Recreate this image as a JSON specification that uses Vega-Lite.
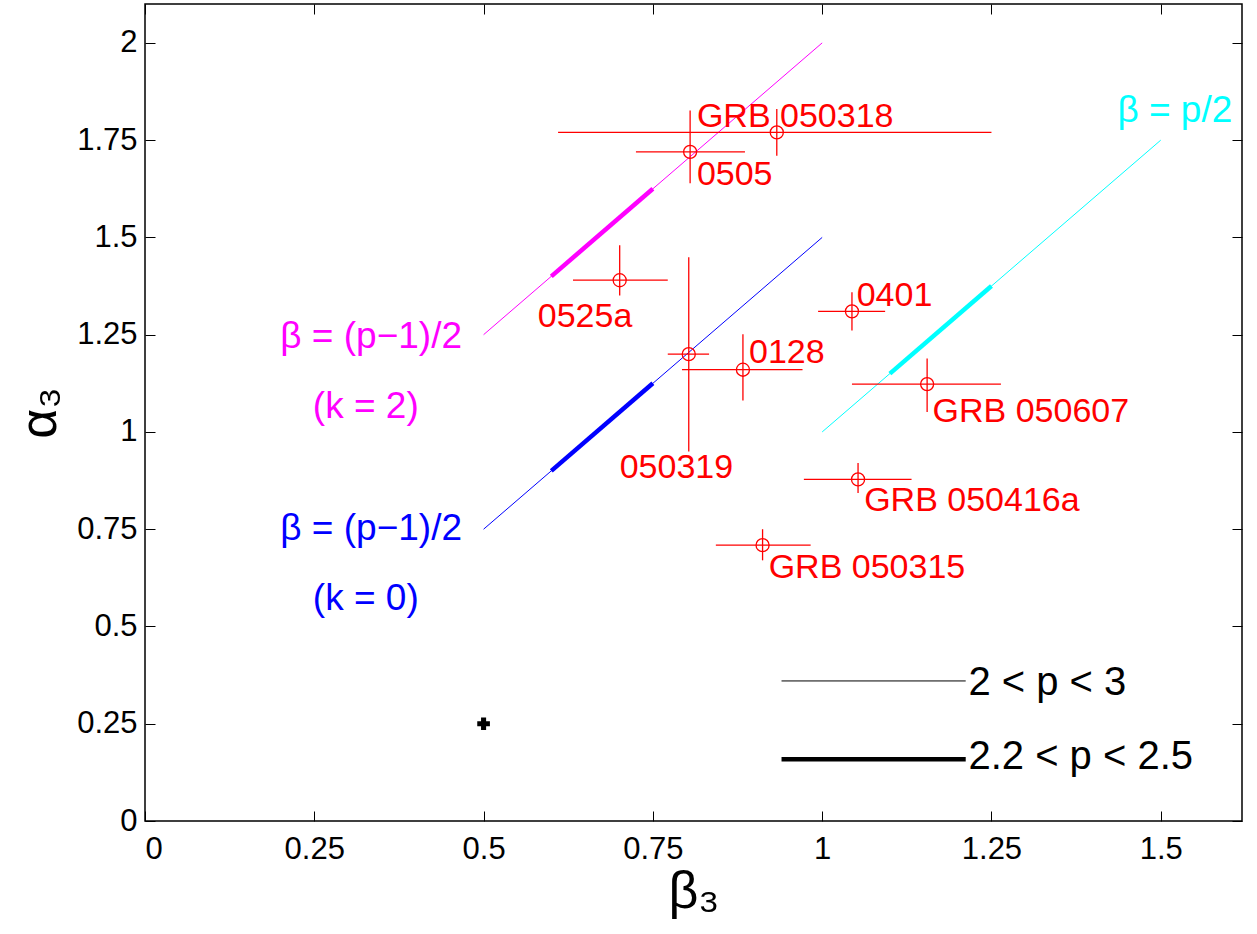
{
  "$schema": "https://vega.github.io/schema/vega-lite/v6.json",
  "width": 1097,
  "height": 817,
  "autosize": {"type": "none"},
  "padding": {"left": 145, "top": 4, "right": 15, "bottom": 113},
  "background": "white",
  "config": {
    "view": {"stroke": "black", "strokeWidth": 1.5},
    "font": "Liberation Sans",
    "axis": {
      "grid": false,
      "domain": false,
      "tickColor": "black",
      "tickSize": -10,
      "tickWidth": 1,
      "labelFont": "Liberation Sans",
      "labelFontSize": 31,
      "labelColor": "black",
      "titleFont": "Liberation Sans",
      "titleColor": "black",
      "titleFontWeight": "normal"
    }
  },
  "datasets": {
    "models": [
      {"x": 0.5, "y": 1.25, "x2": 1.0, "y2": 2.0, "grp": "k2", "prange": "2<p<3"},
      {"x": 0.6, "y": 1.4, "x2": 0.75, "y2": 1.625, "grp": "k2", "prange": "2.2<p<2.5"},
      {"x": 0.5, "y": 0.75, "x2": 1.0, "y2": 1.5, "grp": "k0", "prange": "2<p<3"},
      {"x": 0.6, "y": 0.9, "x2": 0.75, "y2": 1.125, "grp": "k0", "prange": "2.2<p<2.5"},
      {"x": 1.0, "y": 1.0, "x2": 1.5, "y2": 1.75, "grp": "pHalf", "prange": "2<p<3"},
      {"x": 1.1, "y": 1.15, "x2": 1.25, "y2": 1.375, "grp": "pHalf", "prange": "2.2<p<2.5"}
    ],
    "grbs": [
      {"name": "GRB 050318", "beta": 0.933, "alpha": 1.77, "blo": 0.61, "bhi": 1.25, "alo": 1.71, "ahi": 1.83, "lx": 0.815, "ly": 1.785},
      {"name": "0505", "beta": 0.805, "alpha": 1.72, "blo": 0.725, "bhi": 0.886, "alo": 1.639, "ahi": 1.826, "lx": 0.815, "ly": 1.634},
      {"name": "0525a", "beta": 0.701, "alpha": 1.39, "blo": 0.632, "bhi": 0.772, "alo": 1.351, "ahi": 1.48, "lx": 0.58, "ly": 1.269},
      {"name": "050319", "beta": 0.803, "alpha": 1.2, "blo": 0.772, "bhi": 0.833, "alo": 0.95, "ahi": 1.449, "lx": 0.701, "ly": 0.881},
      {"name": "0128", "beta": 0.883, "alpha": 1.16, "blo": 0.793, "bhi": 0.971, "alo": 1.081, "ahi": 1.251, "lx": 0.892, "ly": 1.176},
      {"name": "0401", "beta": 1.044, "alpha": 1.31, "blo": 0.994, "bhi": 1.093, "alo": 1.261, "ahi": 1.359, "lx": 1.051, "ly": 1.325},
      {"name": "GRB 050607", "beta": 1.155, "alpha": 1.123, "blo": 1.044, "bhi": 1.264, "alo": 1.051, "ahi": 1.189, "lx": 1.163, "ly": 1.025},
      {"name": "GRB 050416a", "beta": 1.053, "alpha": 0.878, "blo": 0.973, "bhi": 1.132, "alo": 0.843, "ahi": 0.92, "lx": 1.062, "ly": 0.796},
      {"name": "GRB 050315", "beta": 0.912, "alpha": 0.709, "blo": 0.843, "bhi": 0.983, "alo": 0.67, "ahi": 0.75, "lx": 0.921, "ly": 0.624}
    ],
    "eqlabels": [
      {"text": "β = (p−1)/2", "x": 0.334, "y": 1.215, "grp": "k2"},
      {"text": "(k = 2)", "x": 0.326, "y": 1.035, "grp": "k2"},
      {"text": "β = (p−1)/2", "x": 0.334, "y": 0.722, "grp": "k0"},
      {"text": "(k = 0)", "x": 0.326, "y": 0.542, "grp": "k0"}
    ],
    "cyanlabel": [
      {"text": "β = p/2", "x": 1.436, "y": 1.796, "grp": "pHalf"}
    ],
    "marker": [
      {"x": 0.5, "y": 0.25}
    ],
    "legend": [
      {"x": 0.94, "x2": 1.212, "y": 0.36, "prange": "2<p<3", "text": "2 < p < 3", "tx": 1.216, "ty": 0.325},
      {"x": 0.94, "x2": 1.212, "y": 0.159, "prange": "2.2<p<2.5", "text": "2.2 < p < 2.5", "tx": 1.216, "ty": 0.134}
    ]
  },
  "layer": [
    {
      "data": {"name": "models"},
      "mark": {"type": "rule", "strokeCap": "butt"},
      "encoding": {
        "x": {"field": "x", "type": "quantitative",
              "scale": {"domain": [0, 1.62], "nice": false, "zero": false},
              "axis": {"orient": "bottom", "values": [0, 0.25, 0.5, 0.75, 1, 1.25, 1.5], "labelExpr": "'' + datum.value", "labelPadding": 23, "title": "β₃", "titleFontSize": 52, "titlePadding": 2}},
        "y": {"field": "y", "type": "quantitative",
              "scale": {"domain": [0, 2.1], "nice": false, "zero": false},
              "axis": {"orient": "left", "values": [0, 0.25, 0.5, 0.75, 1, 1.25, 1.5, 1.75, 2], "labelExpr": "'' + datum.value", "labelPadding": 18, "title": "α₃", "titleFontSize": 52, "titlePadding": 10}},
        "x2": {"field": "x2"},
        "y2": {"field": "y2"},
        "color": {"field": "grp", "type": "nominal", "legend": null,
                  "scale": {"domain": ["k2", "k0", "pHalf"], "range": ["#ff00ff", "#0000ff", "#00ffff"]}},
        "strokeWidth": {"field": "prange", "type": "nominal", "legend": null,
                        "scale": {"domain": ["2<p<3", "2.2<p<2.5"], "range": [1, 4.5]}}
      }
    },
    {
      "data": {"name": "grbs"},
      "mark": {"type": "rule", "color": "#ff0000", "strokeWidth": 1.3},
      "encoding": {
        "x": {"field": "blo", "type": "quantitative", "axis": null},
        "x2": {"field": "bhi"},
        "y": {"field": "alpha", "type": "quantitative", "axis": null}
      }
    },
    {
      "data": {"name": "grbs"},
      "mark": {"type": "rule", "color": "#ff0000", "strokeWidth": 1.3},
      "encoding": {
        "x": {"field": "beta", "type": "quantitative", "axis": null},
        "y": {"field": "alo", "type": "quantitative", "axis": null},
        "y2": {"field": "ahi"}
      }
    },
    {
      "data": {"name": "grbs"},
      "mark": {"type": "point", "shape": "circle", "filled": false, "color": "#ff0000", "size": 170, "strokeWidth": 1.3, "opacity": 1},
      "encoding": {
        "x": {"field": "beta", "type": "quantitative", "axis": null},
        "y": {"field": "alpha", "type": "quantitative", "axis": null}
      }
    },
    {
      "data": {"name": "grbs"},
      "mark": {"type": "text", "color": "#ff0000", "fontSize": 34, "font": "Liberation Sans", "align": "left", "baseline": "alphabetic"},
      "encoding": {
        "x": {"field": "lx", "type": "quantitative", "axis": null},
        "y": {"field": "ly", "type": "quantitative", "axis": null},
        "text": {"field": "name"}
      }
    },
    {
      "data": {"name": "eqlabels"},
      "mark": {"type": "text", "fontSize": 37, "font": "Liberation Sans", "align": "center", "baseline": "alphabetic"},
      "encoding": {
        "x": {"field": "x", "type": "quantitative", "axis": null},
        "y": {"field": "y", "type": "quantitative", "axis": null},
        "text": {"field": "text"},
        "color": {"field": "grp", "type": "nominal", "legend": null,
                  "scale": {"domain": ["k2", "k0", "pHalf"], "range": ["#ff00ff", "#0000ff", "#00ffff"]}}
      }
    },
    {
      "data": {"name": "cyanlabel"},
      "mark": {"type": "text", "fontSize": 37, "font": "Liberation Sans", "align": "left", "baseline": "alphabetic"},
      "encoding": {
        "x": {"field": "x", "type": "quantitative", "axis": null},
        "y": {"field": "y", "type": "quantitative", "axis": null},
        "text": {"field": "text"},
        "color": {"field": "grp", "type": "nominal", "legend": null,
                  "scale": {"domain": ["k2", "k0", "pHalf"], "range": ["#ff00ff", "#0000ff", "#00ffff"]}}
      }
    },
    {
      "data": {"name": "marker"},
      "mark": {"type": "point", "shape": "cross", "filled": true, "color": "black", "size": 160, "opacity": 1},
      "encoding": {
        "x": {"field": "x", "type": "quantitative", "axis": null},
        "y": {"field": "y", "type": "quantitative", "axis": null}
      }
    },
    {
      "data": {"name": "legend"},
      "mark": {"type": "text", "color": "black", "fontSize": 40, "font": "Liberation Sans", "align": "left", "baseline": "alphabetic"},
      "encoding": {
        "x": {"field": "tx", "type": "quantitative", "axis": null},
        "y": {"field": "ty", "type": "quantitative", "axis": null},
        "text": {"field": "text"}
      }
    },
    {
      "data": {"name": "legend"},
      "mark": {"type": "rule", "color": "black", "strokeCap": "butt"},
      "encoding": {
        "x": {"field": "x", "type": "quantitative",
              "axis": {"orient": "top", "values": [0, 0.25, 0.5, 0.75, 1, 1.25, 1.5], "labels": false, "title": null}},
        "x2": {"field": "x2"},
        "y": {"field": "y", "type": "quantitative",
              "axis": {"orient": "right", "values": [0, 0.25, 0.5, 0.75, 1, 1.25, 1.5, 1.75, 2], "labels": false, "title": null}},
        "strokeWidth": {"field": "prange", "type": "nominal", "legend": null,
                        "scale": {"domain": ["2<p<3", "2.2<p<2.5"], "range": [1, 4.5]}}
      }
    }
  ],
  "resolve": {"axis": {"x": "independent", "y": "independent"}}
}
